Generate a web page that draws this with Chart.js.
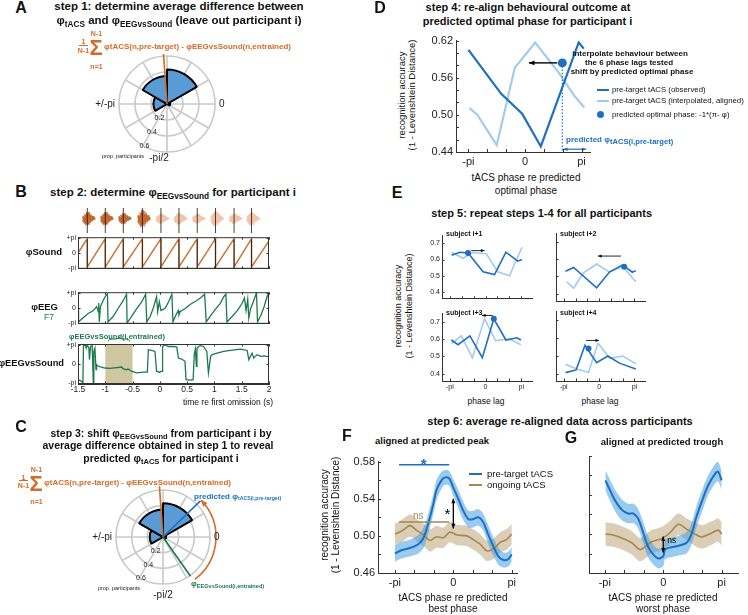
<!DOCTYPE html>
<html>
<head>
<meta charset="utf-8">
<title>tACS phase realignment</title>
<script src="https://cdn.jsdelivr.net/npm/chart.js@4.4.1/dist/chart.umd.min.js"></script>
<style>
  body { margin: 0; background: #fff; }
  #page { position: relative; width: 748px; height: 615px; overflow: hidden; font-family: "Liberation Sans", Arial, sans-serif; color: #111; }
  #page canvas { position: absolute; }
  .t { position: absolute; white-space: nowrap; line-height: 1; }
  .t sub { font-size: 72%; vertical-align: baseline; position: relative; top: 0.32em; }
  .ln { position: absolute; }
</style>
</head>
<body>
<div id="page"></div>
<script>
// ---------- data ----------

// A + C: rose of phase differences (6 bins of 60 deg, prop. participants)
const roseBins = ['0', '-pi/3', '-2pi/3', 'pi', '2pi/3', 'pi/3'];
const roseProp = [0.04, 0, 0, 0.17, 0.35, 0.43];
const roseRings = [0.2, 0.4, 0.6];
const roseRingLabels = ['0.2', '0.4', '0.6'];
const roseSpokes = [0, 30, 60, 90, 120, 150, 180, 210, 240, 270, 300, 330];
const meanDiffAngle = 94;   // degrees
const predAngle = 44;
const eegAngle = -55;

// B: phases over time (s), phase in units of pi
const bTicks = [-1.5, -1, -0.5, 0, 0.5, 1, 1.5, 2];
const bTickLabels = ['-1.5', '-1', '-0.5', '0', '0.5', '1', '1.5', '2'];
const piTicks = [-1, 0, 1];
const piTickLabels = ['-pi', '0', '+pi'];
const soundOnsets = [-1.33, -1.0, -0.67, -0.32, 0.02, 0.35, 0.685, 1.02, 1.36, 1.68];
const soundGain = [0.85, 0.85, 0.7, 1.1, 0.65, 0.75, 0.6, 0.95, 0.65, 0.85];
const darkBursts = 4;
const envOffset = [-0.09, -0.075, -0.06, -0.045, -0.03, -0.015, 0, 0.015, 0.03, 0.045, 0.06, 0.075, 0.09, 0.105, 0.12, 0.135, 0.15];
const envAmp = [0.12, 0.45, 0.25, 0.7, 0.4, 0.95, 0.55, 1.0, 0.5, 0.85, 0.35, 0.6, 0.25, 0.4, 0.12, 0.2, 0.05];
const soundPhase = [[-1.5, 0], [-1.33, 0.95], [-1.33, -0.93], [-1.0, 0.95], [-1.0, -0.93], [-0.67, 0.95], [-0.67, -0.93],
  [-0.32, 0.95], [-0.32, -0.93], [0.02, 0.95], [0.02, -0.93], [0.35, 0.95], [0.35, -0.93], [0.685, 0.95], [0.685, -0.93],
  [1.02, 0.95], [1.02, -0.93], [1.36, 0.95], [1.36, -0.93], [1.68, 0.95], [1.68, -0.93], [2.0, 0.8]];
const eegPhase = [[-1.5, -0.05], [-1.49, -0.92], [-1.41, -0.67], [-1.32, -0.38], [-1.22, -0.17], [-1.16, 0.08], [-1.14, -0.08],
  [-1.13, -0.25], [-1.12, 0.33], [-1.11, -0.92], [-1.09, 0.08], [-1.04, 0.5], [-0.98, 0.88], [-0.96, 0.92], [-0.95, -0.92],
  [-0.86, -0.58], [-0.76, 0.0], [-0.67, 0.5], [-0.61, 0.92], [-0.6, -1.0], [-0.52, -0.58], [-0.43, -0.08], [-0.33, 0.42],
  [-0.26, 0.92], [-0.24, -0.92], [-0.18, -0.58], [-0.12, 0.0], [-0.06, 0.75], [-0.04, -0.25], [-0.01, 0.42], [0.02, -0.17],
  [0.1, 0.0], [0.16, 0.42], [0.22, 0.92], [0.24, -0.92], [0.3, -0.42], [0.34, -0.17], [0.35, -0.45], [0.37, -0.25],
  [0.46, -0.05], [0.56, 0.25], [0.68, 0.5], [0.77, 0.75], [0.82, 0.92], [0.85, -0.92], [0.93, -0.5], [1.02, -0.08],
  [1.11, 0.33], [1.17, 0.75], [1.21, 0.92], [1.23, -0.92], [1.32, -0.58], [1.42, -0.17], [1.51, 0.33], [1.55, 0.67],
  [1.58, -0.17], [1.61, 0.58], [1.63, -0.67], [1.66, -0.08], [1.72, 0.5], [1.77, 1.0], [1.79, -0.92], [1.85, -0.5],
  [1.91, 0.08], [1.97, 0.83], [1.99, 0.92], [2.0, -1.0]];
const eegVsSound = [[-1.5, -0.82], [-1.44, -0.9], [-1.41, -0.99], [-1.4, 0.96], [-1.36, 0.96], [-1.35, 0.83], [-1.33, 1.0],
  [-1.3, 0.83], [-1.29, 0.23], [-1.27, 0.92], [-1.24, 0.96], [-1.22, -0.99], [-1.21, -0.82], [-1.21, 0.66], [-1.19, 0.83],
  [-1.17, -0.3], [-1.16, -0.03], [-1.13, -0.12], [-1.07, -0.16], [-1.01, -0.21], [-0.92, -0.23], [-0.79, -0.19],
  [-0.7, -0.16], [-0.67, -0.26], [-0.61, -0.3], [-0.58, -0.26], [-0.52, -0.38], [-0.43, -0.47], [-0.3, -0.43],
  [-0.23, -0.43], [-0.21, 0.75], [-0.15, 0.71], [-0.09, 0.66], [-0.06, -0.38], [-0.01, -0.43], [0.04, -0.38],
  [0.05, 0.92], [0.1, 1.0], [0.16, 0.92], [0.25, 0.92], [0.31, 0.89], [0.34, 0.31], [0.4, 0.26], [0.46, 0.14],
  [0.48, -0.82], [0.56, -0.85], [0.61, -0.82], [0.63, 0.49], [0.65, 0.78], [0.67, -0.12], [0.68, 0.83], [0.71, 0.92],
  [0.74, 0.96], [0.8, 0.92], [0.86, 0.66], [0.89, -0.47], [0.93, 0.4], [0.96, 0.49], [1.05, 0.57], [1.17, 0.66],
  [1.29, 0.71], [1.48, 0.78], [1.6, 0.71], [1.63, 0.23], [1.66, 0.4], [1.69, 0.57], [1.72, 0.31], [1.78, 0.49],
  [1.85, 0.4], [1.91, 0.43], [2.0, 0.37]];
const entrainedWindow = [-1, -0.5];

// shared phase axis (units of pi)
const phaseTicks = [-1, -2 / 3, -1 / 3, 0, 1 / 3, 2 / 3, 1];
const phaseLabels = ['-pi', '', '', '0', '', '', 'pi'];

// D: single participant
const dTicksY = [0.44, 0.46, 0.48, 0.50, 0.52, 0.54, 0.56, 0.58, 0.60, 0.62];
const dTickLabelsY = ['0.44', '', '', '0.50', '', '', '0.56', '', '', '0.62'];
const dObserved = [[-1, 0.605], [-0.42, 0.534], [-0.05, 0.502], [0.28, 0.449], [0.95, 0.617], [1.04, 0.607]];
const dAligned = [[-0.98, 0.511], [-0.84, 0.5], [-0.5, 0.451], [-0.18, 0.576], [0.18, 0.617], [0.6, 0.568], [0.87, 0.531], [1.05, 0.512]];
const dOptimal = [0.66, 0.584];
const dArrowTo = 0.07;
const dShift = [0.68, 1.08, 0.4445];

// E: four more participants
const eTicksY = [0.4, 0.5, 0.6, 0.7];
const eTickLabelsY = ['0.4', '0.5', '0.6', '0.7'];
const e1Obs = [[-0.95, 0.627], [-0.72, 0.645], [-0.49, 0.64], [-0.07, 0.524], [0.25, 0.507], [0.57, 0.645], [0.9, 0.59], [1.02, 0.6]];
const e1Int = [[-0.95, 0.645], [-0.63, 0.608], [-0.35, 0.643], [0.02, 0.636], [0.34, 0.524], [0.67, 0.5], [1.02, 0.676]];
const e1Dot = [-0.49, 0.64], e1Arrow = [-0.4, -0.03, 0.655];
const e2Obs = [[-0.95, 0.529], [-0.72, 0.551], [-0.07, 0.434], [0.3, 0.526], [0.67, 0.566], [0.94, 0.524], [1.04, 0.533]];
const e2Int = [[-0.92, 0.469], [-0.72, 0.432], [-0.44, 0.52], [-0.07, 0.571], [0.3, 0.524], [0.67, 0.557], [1.04, 0.469]];
const e2Dot = [0.71, 0.555], e2Arrow = [0.62, -0.03, 0.617];
const e3Obs = [[-0.96, 0.595], [-0.77, 0.568], [-0.44, 0.619], [-0.09, 0.493], [0.23, 0.718], [0.57, 0.595], [0.88, 0.608], [0.99, 0.595]];
const e3Int = [[-0.95, 0.574], [-0.68, 0.619], [-0.37, 0.493], [-0.03, 0.718], [0.28, 0.592], [0.67, 0.601], [0.99, 0.568]];
const e3Dot = [0.23, 0.718], e3Arrow = [0.2, -0.1, 0.737];
const e4Obs = [[-0.95, 0.405], [-0.65, 0.42], [-0.4, 0.558], [-0.07, 0.461], [0.25, 0.498], [0.575, 0.458], [1.04, 0.425]];
const e4Int = [[-0.95, 0.452], [-0.63, 0.425], [-0.3, 0.405], [-0.03, 0.57], [0.3, 0.485], [0.67, 0.498], [1.04, 0.454]];
const e4Dot = [-0.3, 0.54], e4Arrow = [-0.37, 0.0, 0.585];

// F + G: group average [phase, mean, ci half-width]
const fgTicksY = [0.46, 0.48, 0.50, 0.52, 0.54, 0.56, 0.58];
const fTickLabelsY = ['0.46', '', '0.50', '', '0.54', '', '0.58'];
const fPre = [[-1, 0.481, 0.009], [-0.91, 0.484, 0.009], [-0.74, 0.487, 0.009], [-0.6, 0.491, 0.01], [-0.51, 0.498, 0.011],
  [-0.43, 0.513, 0.011], [-0.34, 0.535, 0.011], [-0.29, 0.549, 0.011], [-0.2, 0.56, 0.009], [-0.14, 0.563, 0.008],
  [-0.07, 0.562, 0.008], [0, 0.552, 0.009], [0.09, 0.539, 0.01], [0.17, 0.527, 0.01], [0.26, 0.518, 0.009],
  [0.34, 0.518, 0.009], [0.43, 0.52, 0.009], [0.51, 0.515, 0.009], [0.6, 0.501, 0.01], [0.69, 0.488, 0.01],
  [0.77, 0.478, 0.009], [0.86, 0.474, 0.008], [0.94, 0.475, 0.008], [1, 0.48, 0.008]];
const fOn = [[-1, 0.502, 0.011], [-0.89, 0.505, 0.012], [-0.74, 0.511, 0.012], [-0.63, 0.506, 0.012], [-0.51, 0.501, 0.012],
  [-0.4, 0.495, 0.012], [-0.29, 0.499, 0.012], [-0.17, 0.498, 0.011], [-0.06, 0.504, 0.011], [0.06, 0.501, 0.011],
  [0.23, 0.5, 0.011], [0.34, 0.496, 0.011], [0.46, 0.491, 0.011], [0.57, 0.484, 0.011], [0.69, 0.486, 0.011],
  [0.8, 0.493, 0.011], [0.91, 0.496, 0.011], [1, 0.502, 0.011]];
const gPre = [[-0.99, 0.555, 0.01], [-0.91, 0.545, 0.011], [-0.83, 0.535, 0.011], [-0.71, 0.525, 0.011], [-0.6, 0.521, 0.01],
  [-0.51, 0.521, 0.01], [-0.43, 0.516, 0.01], [-0.34, 0.501, 0.011], [-0.26, 0.487, 0.011], [-0.17, 0.479, 0.01],
  [-0.09, 0.475, 0.01], [0, 0.477, 0.01], [0.03, 0.484, 0.01], [0.11, 0.486, 0.01], [0.26, 0.488, 0.01],
  [0.4, 0.491, 0.011], [0.49, 0.501, 0.011], [0.57, 0.518, 0.011], [0.69, 0.538, 0.011], [0.77, 0.55, 0.01],
  [0.89, 0.562, 0.01], [0.94, 0.564, 0.01], [1, 0.555, 0.01]];
const gOn = [[-0.99, 0.5, 0.012], [-0.86, 0.499, 0.012], [-0.71, 0.496, 0.012], [-0.54, 0.491, 0.012], [-0.4, 0.484, 0.012],
  [-0.31, 0.487, 0.012], [-0.2, 0.492, 0.012], [-0.09, 0.494, 0.012], [0, 0.496, 0.012], [0.11, 0.501, 0.012],
  [0.26, 0.51, 0.011], [0.4, 0.505, 0.011], [0.54, 0.5, 0.012], [0.66, 0.497, 0.012], [0.83, 0.501, 0.012],
  [0.94, 0.504, 0.012], [1, 0.5, 0.012]];
const fSigPre = [-0.93, -0.07, 0.5766], fStarPre = [-0.51, 0.5795];
const fSigOn = [-0.93, -0.07, 0.515], fNsOn = [-0.6, 0.5215];
const fDiff = [0, 0.540, 0.508], fStarDiff = [-0.1, 0.5225];
const gDiff = [0, 0.4975, 0.481], gNsDiff = [0.145, 0.4935];

// ---------- style ----------
const FONT = '"Liberation Sans", Arial, sans-serif';
const ORANGE = '#d66a28', GREEN = '#1c7a4c', BLUE_D = '#1f6fc1', BLUE_L = '#a3cbee';
const BROWN = '#a68754', ROSE = '#5b9bd5', SOUND = '#c8773a';
Chart.defaults.font.family = FONT;
Chart.defaults.color = '#222';

const page = document.getElementById('page');

function txt(html, x, y, size, o = {}) {
  const d = document.createElement('div');
  d.className = 't';
  d.innerHTML = html;
  const ax = o.align === 'left' ? '0' : o.align === 'right' ? '-100%' : '-50%';
  d.style.left = x + 'px';
  d.style.top = y + 'px';
  d.style.fontSize = size + 'px';
  if (o.bold) d.style.fontWeight = 'bold';
  if (o.color) d.style.color = o.color;
  d.style.transform = `translate(${ax},-50%)` + (o.rot ? ` rotate(${o.rot}deg)` : '');
  page.appendChild(d);
  return d;
}

function hbar(x1, x2, y, color, w) {
  const d = document.createElement('div');
  d.className = 'ln';
  Object.assign(d.style, { left: x1 + 'px', top: (y - w / 2) + 'px', width: (x2 - x1) + 'px', height: w + 'px', background: color });
  page.appendChild(d);
}

function arrow(ctx, x1, y1, x2, y2, head, both) {
  ctx.beginPath(); ctx.moveTo(x1, y1); ctx.lineTo(x2, y2); ctx.stroke();
  const tip = (xa, ya, xb, yb) => {
    const a = Math.atan2(yb - ya, xb - xa);
    ctx.beginPath();
    ctx.moveTo(xb, yb);
    ctx.lineTo(xb - head * Math.cos(a - 0.42), yb - head * Math.sin(a - 0.42));
    ctx.lineTo(xb - head * Math.cos(a + 0.42), yb - head * Math.sin(a + 0.42));
    ctx.closePath(); ctx.fill();
  };
  tip(x1, y1, x2, y2);
  if (both) tip(x2, y2, x1, y1);
}

// MATLAB style ticks pointing into the axes
const innerTicks = {
  id: 'innerTicks',
  afterDraw(ch, args, o) {
    if (!o || !o.len || !ch.scales.x) return;
    const { ctx, chartArea: a, scales: { x, y } } = ch;
    ctx.save();
    ctx.strokeStyle = '#333';
    ctx.lineWidth = 1;
    ctx.beginPath();
    x.ticks.forEach(t => {
      const p = Math.round(x.getPixelForValue(t.value)) + 0.5;
      ctx.moveTo(p, a.bottom); ctx.lineTo(p, a.bottom - o.len);
      if (o.box) { ctx.moveTo(p, a.top); ctx.lineTo(p, a.top + o.len); }
    });
    y.ticks.forEach(t => {
      const p = Math.round(y.getPixelForValue(t.value)) + 0.5;
      ctx.moveTo(a.left, p); ctx.lineTo(a.left + o.len, p);
      if (o.box) { ctx.moveTo(a.right, p); ctx.lineTo(a.right - o.len, p); }
    });
    ctx.stroke();
    if (o.box) ctx.strokeRect(a.left + 0.5, a.top + 0.5, a.width - 1, a.height - 1);
    ctx.restore();
  }
};
Chart.register(innerTicks);

function axis(min, max, ticks, labels, o = {}) {
  return {
    type: 'linear', min, max, bounds: 'data',
    afterBuildTicks: s => { s.ticks = ticks.map(v => ({ value: v })); },
    ticks: {
      display: !!labels, autoSkip: false, maxRotation: 0, padding: o.pad ?? 3,
      font: { size: o.size ?? 10 }, color: '#222',
      callback: (v, i) => labels ? labels[i] : ''
    },
    grid: { display: false, drawTicks: false },
    border: { display: o.border !== false, color: '#333', width: 1 }
  };
}

// box = plot area in page pixels, m = room around it for tick labels
function plot(box, m, datasets, scales, opt = {}) {
  const c = document.createElement('canvas');
  const W = box.w + m.l + m.r, H = box.h + m.t + m.b;
  c.width = W; c.height = H;
  Object.assign(c.style, { left: (box.l - m.l) + 'px', top: (box.t - m.t) + 'px', width: W + 'px', height: H + 'px' });
  page.appendChild(c);
  scales.x.afterFit = s => { s.height = m.b; };
  scales.y.afterFit = s => { s.width = m.l; };
  return new Chart(c, {
    type: 'line',
    data: { datasets },
    options: {
      responsive: false, animation: false, events: [],
      layout: { padding: { left: 0, right: m.r, top: m.t, bottom: 0 } },
      scales,
      plugins: { legend: { display: false }, tooltip: { enabled: false }, innerTicks: opt.ticks || {} },
      elements: { point: { radius: 0 }, line: { tension: 0 } }
    },
    plugins: opt.draw ? [opt.draw] : []
  });
}

const pts = a => a.map(p => ({ x: p[0], y: p[1] }));
function line(a, color, w, extra) {
  return Object.assign({ data: pts(a), borderColor: color, borderWidth: w, pointRadius: 0, fill: false }, extra || {});
}
function band(rows, fill) {
  return [
    { data: rows.map(r => ({ x: r[0], y: r[1] + r[2] })), borderWidth: 0, backgroundColor: fill, fill: '+1', pointRadius: 0, tension: 0.3 },
    { data: rows.map(r => ({ x: r[0], y: r[1] - r[2] })), borderWidth: 0, fill: false, pointRadius: 0, tension: 0.3 }
  ];
}
function dotSet(p, r) {
  return { data: pts([p]), showLine: false, pointRadius: r, pointBackgroundColor: BLUE_D, pointBorderColor: BLUE_D, pointBorderWidth: 0 };
}

// ---------- rose plots (A, C) ----------
function ray(ctx, s, deg, len, color, w) {
  const r = deg * Math.PI / 180;
  ctx.save(); ctx.strokeStyle = color; ctx.lineWidth = w;
  ctx.beginPath(); ctx.moveTo(s.xCenter, s.yCenter);
  ctx.lineTo(s.xCenter + len * Math.cos(r), s.yCenter - len * Math.sin(r));
  ctx.stroke(); ctx.restore();
}

function roseFrame(sdx, sdy) {
  return {
    id: 'roseFrame',
    beforeDatasetsDraw(ch) {
      const s = ch.scales.r, ctx = ch.ctx;
      const R = s.getDistanceFromCenterForValue(s.max);
      ctx.save(); ctx.strokeStyle = '#c9c9c9'; ctx.lineWidth = 1.6; ctx.beginPath();
      roseSpokes.forEach(a => {
        const r = a * Math.PI / 180;
        ctx.moveTo(s.xCenter, s.yCenter);
        ctx.lineTo(s.xCenter + R * Math.cos(r), s.yCenter - R * Math.sin(r));
      });
      ctx.stroke(); ctx.restore();
    },
    afterDraw(ch) {
      const s = ch.scales.r, ctx = ch.ctx, cx = s.xCenter, cy = s.yCenter;
      const R = s.getDistanceFromCenterForValue(s.max);
      ctx.save(); ctx.fillStyle = '#222'; ctx.textBaseline = 'middle';
      ctx.font = `10px ${FONT}`;
      ctx.textAlign = 'right'; ctx.fillText('+/-pi', cx - R - 4, cy);
      ctx.textAlign = 'left'; ctx.fillText('0', cx + R + 4, cy);
      ctx.textAlign = 'center'; ctx.fillText('-pi/2', cx + sdx, cy + R + sdy);
      ctx.font = `7px ${FONT}`;
      const la = -118 * Math.PI / 180;
      roseRings.forEach((v, i) => {
        const r = s.getDistanceFromCenterForValue(v);
        ctx.fillText(roseRingLabels[i], cx + r * Math.cos(la), cy - r * Math.sin(la));
      });
      ctx.font = `5.5px ${FONT}`;
      ctx.fillText('prop. participants', cx - 44, cy + R + 4);
      ctx.restore();
    }
  };
}

function rose(cx, cy, R, sdx, sdy, draw) {
  const S = 160, P = S / 2 - R;
  const c = document.createElement('canvas');
  c.width = S; c.height = S;
  Object.assign(c.style, { left: (cx - S / 2) + 'px', top: (cy - S / 2) + 'px', width: S + 'px', height: S + 'px' });
  page.appendChild(c);
  return new Chart(c, {
    type: 'polarArea',
    data: { labels: roseBins, datasets: [{ data: roseProp, backgroundColor: ROSE, borderColor: '#000', borderWidth: 2 }] },
    options: {
      responsive: false, animation: false, events: [],
      layout: { padding: P },
      scales: {
        r: {
          min: 0, max: 0.6, startAngle: 60,
          afterBuildTicks: s => { s.ticks = [0].concat(roseRings).map(v => ({ value: v })); },
          ticks: { display: false },
          grid: { circular: true, color: '#c9c9c9', lineWidth: 1.6 },
          angleLines: { display: false },
          pointLabels: { display: false }
        }
      },
      plugins: { legend: { display: false }, tooltip: { enabled: false } }
    },
    plugins: [roseFrame(sdx, sdy), draw]
  });
}

rose(167, 104, 48, -8, 6, {
  id: 'roseA',
  afterDatasetsDraw(ch) { ray(ch.ctx, ch.scales.r, meanDiffAngle, 50, ORANGE, 1.6); }
});

rose(163, 537, 47, 0, 11, {
  id: 'roseC',
  afterDatasetsDraw(ch) {
    const s = ch.scales.r, ctx = ch.ctx;
    ray(ctx, s, meanDiffAngle, 51, ORANGE, 1.6);
    ray(ctx, s, predAngle, 52, BLUE_D, 1.6);
    ray(ctx, s, eegAngle, 48, GREEN, 1.6);
    // shift from phi EEGvsSound to predicted phi tACS
    const r = 53, a0 = (eegAngle + 2) * Math.PI / 180, a1 = (predAngle - 3) * Math.PI / 180;
    ctx.save();
    ctx.strokeStyle = ORANGE; ctx.fillStyle = ORANGE; ctx.lineWidth = 1.6;
    ctx.beginPath(); ctx.arc(s.xCenter, s.yCenter, r, -a0, -a1, true); ctx.stroke();
    const ex = s.xCenter + r * Math.cos(a1), ey = s.yCenter - r * Math.sin(a1);
    const tx = -Math.sin(a1), ty = -Math.cos(a1);
    arrow(ctx, ex - tx * 2, ey - ty * 2, ex + tx * 3, ey + ty * 3, 7);
    ctx.restore();
  }
});

// ---------- B: phase traces ----------
const bX = (labels) => axis(-1.5, 2, bTicks, labels, { size: 8.5, pad: 1 });
const bY = () => axis(-1.05, 1.05, piTicks, piTickLabels, { size: 7, pad: 2 });

const burstSets = [];
soundOnsets.forEach((t0, k) => {
  const col = k < darkBursts ? 'rgba(192,96,36,0.95)' : 'rgba(240,184,148,0.8)';
  const up = envOffset.map((d, i) => [t0 + d, envAmp[i] * soundGain[k]]);
  const dn = envOffset.map((d, i) => [t0 + d, -envAmp[(i + 1) % envAmp.length] * soundGain[k]]);
  burstSets.push(line(up, col, 0.7, { fill: '+1', backgroundColor: col }), line(dn, col, 0.7));
});
const onsetLines = {
  id: 'onsetLines',
  afterDatasetsDraw(ch) {
    const { ctx, chartArea: a, scales: { x } } = ch;
    ctx.save(); ctx.strokeStyle = '#111'; ctx.lineWidth = 0.8; ctx.beginPath();
    soundOnsets.forEach(t => { const p = x.getPixelForValue(t); ctx.moveTo(p, a.top + 2); ctx.lineTo(p, a.bottom); });
    ctx.stroke(); ctx.restore();
  }
};
plot({ l: 78, t: 206, w: 191, h: 27 }, { l: 0, r: 0, t: 0, b: 0 }, burstSets,
  { x: axis(-1.5, 2, [], null, { border: false }), y: axis(-1.8, 1.6, [], null, { border: false }) },
  { draw: onsetLines });

plot({ l: 78, t: 233, w: 191, h: 40 }, { l: 16, r: 4, t: 2, b: 2 },
  [line(soundPhase, SOUND, 1.5)],
  { x: bX(null), y: bY() },
  { ticks: { len: 2.5, box: true }, draw: onsetLines });

plot({ l: 78, t: 288, w: 191, h: 40 }, { l: 16, r: 4, t: 2, b: 2 },
  [line(eegPhase, GREEN, 1.3)],
  { x: bX(null), y: bY() },
  { ticks: { len: 2.5, box: true } });

plot({ l: 78, t: 344, w: 191, h: 40 }, { l: 16, r: 6, t: 8, b: 13 },
  [line(eegVsSound, GREEN, 1.3)],
  { x: bX(bTickLabels), y: bY() },
  {
    ticks: { len: 2.5, box: true },
    draw: {
      id: 'window',
      beforeDatasetsDraw(ch) {
        const { ctx, chartArea: a, scales: { x } } = ch;
        const x0 = x.getPixelForValue(entrainedWindow[0]), x1 = x.getPixelForValue(entrainedWindow[1]);
        ctx.save(); ctx.fillStyle = '#cfc6a2'; ctx.fillRect(x0, a.top, x1 - x0, a.height);
        // brace above the window
        const y0 = a.top - 2.5, xm = (x0 + x1) / 2;
        ctx.strokeStyle = GREEN; ctx.lineWidth = 1; ctx.beginPath();
        ctx.moveTo(x0 + 3, y0); ctx.quadraticCurveTo(x0 + 3, y0 - 2.5, x0 + 8, y0 - 2.5);
        ctx.lineTo(xm - 3, y0 - 2.5); ctx.quadraticCurveTo(xm, y0 - 2.5, xm, y0 - 5);
        ctx.quadraticCurveTo(xm, y0 - 2.5, xm + 3, y0 - 2.5); ctx.lineTo(x1 - 8, y0 - 2.5);
        ctx.quadraticCurveTo(x1 - 3, y0 - 2.5, x1 - 3, y0); ctx.stroke();
        ctx.restore();
      }
    }
  });

// ---------- D ----------
plot({ l: 456, t: 37, w: 134, h: 115 }, { l: 30, r: 8, t: 6, b: 17 },
  [dotSet(dOptimal, 4.5), line(dObserved, BLUE_D, 2.2), line(dAligned, BLUE_L, 2.2)],
  {
    x: axis(-1.22, 1.15, phaseTicks, phaseLabels, { size: 11, pad: 3 }),
    y: axis(0.44, 0.62, dTicksY, dTickLabelsY, { size: 11, pad: 3 })
  },
  {
    ticks: { len: 3 },
    draw: {
      id: 'dDraw',
      afterDatasetsDraw(ch) {
        const { ctx, scales: { x, y } } = ch;
        const px = x.getPixelForValue(dOptimal[0]), py = y.getPixelForValue(dOptimal[1]);
        ctx.save();
        ctx.strokeStyle = BLUE_D; ctx.lineWidth = 1.2; ctx.setLineDash([1.5, 1.8]);
        ctx.beginPath(); ctx.moveTo(px, py); ctx.lineTo(px, y.getPixelForValue(0.44)); ctx.stroke();
        ctx.setLineDash([]);
        ctx.strokeStyle = '#000'; ctx.fillStyle = '#000'; ctx.lineWidth = 1.4;
        arrow(ctx, px - 5, py, x.getPixelForValue(dArrowTo), py, 6);
        const ay = y.getPixelForValue(dShift[2]);
        ctx.strokeStyle = BLUE_D; ctx.fillStyle = BLUE_D; ctx.lineWidth = 1.2;
        arrow(ctx, x.getPixelForValue(dShift[0]), ay, x.getPixelForValue(dShift[1]), ay, 4.5, true);
        ctx.restore();
      }
    }
  });

// ---------- E ----------
function arrowPlugin(arr) {
  return {
    id: 'eArrow',
    afterDatasetsDraw(ch) {
      const { ctx, scales: { x, y } } = ch;
      const py = y.getPixelForValue(arr[2]);
      ctx.save(); ctx.strokeStyle = '#111'; ctx.fillStyle = '#111'; ctx.lineWidth = 0.9;
      arrow(ctx, x.getPixelForValue(arr[0]), py, x.getPixelForValue(arr[1]), py, 4);
      ctx.restore();
    }
  };
}
function eplot(box, obs, intp, dot, arr, showY, showX) {
  plot(box, { l: showY ? 16 : 3, r: 3, t: 3, b: showX ? 11 : 2 },
    [dotSet(dot, 3), line(obs, BLUE_D, 1.6), line(intp, BLUE_L, 1.6)],
    {
      x: axis(-1.22, 1.3, phaseTicks, showX ? phaseLabels : null, { size: 7, pad: 2 }),
      y: axis(0.358, 0.75, eTicksY, showY ? eTickLabelsY : null, { size: 7, pad: 2 })
    },
    { ticks: { len: 2.5 }, draw: arrowPlugin(arr) });
}
eplot({ l: 442, t: 232, w: 91, h: 71 }, e1Obs, e1Int, e1Dot, e1Arrow, true, false);
eplot({ l: 555, t: 232, w: 91, h: 71 }, e2Obs, e2Int, e2Dot, e2Arrow, false, false);
eplot({ l: 442, t: 310, w: 91, h: 71 }, e3Obs, e3Int, e3Dot, e3Arrow, true, true);
eplot({ l: 555, t: 310, w: 91, h: 71 }, e4Obs, e4Int, e4Dot, e4Arrow, false, true);

// ---------- F, G ----------
const PRE_FILL = 'rgba(70,160,228,0.55)', ON_FILL = 'rgba(172,146,96,0.45)';
function avgSets(pre, on) {
  return [
    line(pre.map(r => [r[0], r[1]]), BLUE_D, 2, { tension: 0.3 }),
    line(on.map(r => [r[0], r[1]]), BROWN, 1.6, { tension: 0.3 }),
    ...band(pre, PRE_FILL),
    ...band(on, ON_FILL)
  ];
}
function vArrowNote(ch, d, note, txtStr, color, size) {
  const { ctx, scales: { x, y } } = ch;
  const px = x.getPixelForValue(d[0]);
  ctx.save(); ctx.strokeStyle = '#000'; ctx.fillStyle = '#000'; ctx.lineWidth = 1.3;
  arrow(ctx, px, y.getPixelForValue(d[1]), px, y.getPixelForValue(d[2]), 5, true);
  ctx.fillStyle = color; ctx.font = `${size}px ${FONT}`; ctx.textBaseline = 'middle'; ctx.textAlign = 'center';
  ctx.fillText(txtStr, x.getPixelForValue(note[0]), y.getPixelForValue(note[1]));
  ctx.restore();
}
plot({ l: 378, t: 456, w: 139, h: 117 }, { l: 26, r: 6, t: 4, b: 17 },
  avgSets(fPre, fOn),
  {
    x: axis(-1.29, 1.09, phaseTicks, phaseLabels, { size: 11, pad: 3 }),
    y: axis(0.46, 0.58, fgTicksY, fTickLabelsY, { size: 11, pad: 3 })
  },
  {
    ticks: { len: 3 },
    draw: {
      id: 'fDraw',
      afterDatasetsDraw(ch) {
        const { ctx, scales: { x, y } } = ch;
        ctx.save(); ctx.lineWidth = 1.6;
        [[fSigPre, BLUE_D], [fSigOn, BROWN]].forEach(([s, c]) => {
          ctx.strokeStyle = c; ctx.beginPath();
          ctx.moveTo(x.getPixelForValue(s[0]), y.getPixelForValue(s[2]));
          ctx.lineTo(x.getPixelForValue(s[1]), y.getPixelForValue(s[2])); ctx.stroke();
        });
        ctx.textAlign = 'center'; ctx.textBaseline = 'middle';
        ctx.fillStyle = BLUE_D; ctx.font = `bold 15px ${FONT}`;
        ctx.fillText('*', x.getPixelForValue(fStarPre[0]), y.getPixelForValue(fStarPre[1]) + 3);
        ctx.fillStyle = BROWN; ctx.font = `10px ${FONT}`;
        ctx.fillText('ns', x.getPixelForValue(fNsOn[0]), y.getPixelForValue(fNsOn[1]));
        ctx.restore();
        vArrowNote(ch, fDiff, fStarDiff, '*', '#000', 15);
      }
    }
  });
plot({ l: 589, t: 456, w: 149, h: 117 }, { l: 3, r: 8, t: 4, b: 17 },
  avgSets(gPre, gOn),
  {
    x: axis(-1.27, 1.28, phaseTicks, phaseLabels, { size: 11, pad: 3 }),
    y: axis(0.46, 0.58, fgTicksY, null)
  },
  {
    ticks: { len: 3 },
    draw: { id: 'gDraw', afterDatasetsDraw(ch) { vArrowNote(ch, gDiff, gNsDiff, 'ns', '#000', 8.5); } }
  });

// ---------- text ----------
const B = { bold: true };
function formula(sx, sy, size) {
  txt('1', sx - 11.5, sy - 6, 7, { bold: true, color: ORANGE });
  hbar(sx - 16, sx - 7, sy - 2, ORANGE, 1);
  txt('N-1', sx - 11.5, sy + 2.5, 7, { bold: true, color: ORANGE });
  txt('&Sigma;', sx + 1, sy + 1, 22, { bold: true, color: ORANGE });
  txt('N-1', sx + 1.5, sy - 14, 7, { bold: true, color: ORANGE });
  txt('n=1', sx + 1.5, sy + 18.5, 7, { bold: true, color: ORANGE });
  txt('φtACS(n,pre-target) - φEEGvsSound(n,entrained)', sx + 9, sy, size, { bold: true, color: ORANGE, align: 'left' });
}

// A
txt('A', 21, 8, 16, B);
txt('step 1: determine average difference between', 179, 7, 11.5, B);
txt('φ<sub>tACS</sub> and φ<sub>EEGvsSound</sub> (leave out participant i)', 179, 21, 11.5, B);
formula(95, 47, 8);

// B
txt('B', 21, 192, 16, B);
txt('step 2: determine φ<sub>EEGvsSound</sub> for participant i', 173, 193, 11.5, B);
txt('φSound', 62, 252, 9.5, { bold: true, align: 'right' });
txt('φEEG', 58, 306.5, 9.5, { bold: true, align: 'right' });
txt('F7', 49, 317, 8.5, { color: GREEN });
txt('φEEGvsSound', 64, 363.5, 9.3, { bold: true, align: 'right' });
txt('φEEGvsSound(i,entrained)', 117, 336.5, 7.5, { bold: true, color: GREEN });
txt('time re first omission (s)', 228, 402, 8.5);

// C
txt('C', 21, 427, 16, B);
txt('step 3: shift φ<sub>EEGvsSound</sub> from participant i by', 161, 433, 10.5, B);
txt('average difference obtained in step 1 to reveal', 158, 445, 10.5, B);
txt('predicted φ<sub>tACS</sub> for participant i', 161, 457.5, 10.5, B);
formula(35, 482.5, 8);
txt('predicted φ<sub style="font-size:65%">tACS(i,pre-target)</sub>', 194, 496.5, 8, { bold: true, color: BLUE_D, align: 'left' });
txt('φ<sub style="font-size:70%">EEGvsSound(i,entrained)</sub>', 191, 584, 8, { bold: true, color: GREEN, align: 'left' });

// D
txt('D', 380, 8, 16, B);
txt('step 4: re-align behavioural outcome at', 528, 7, 11, B);
txt('predicted optimal phase for participant i', 527.5, 21, 11, B);
txt('recognition accuracy', 402, 95, 9.5, { rot: -90 });
txt('(1 - Levenshtein Distance)', 412, 95, 9.5, { rot: -90 });
txt('tACS phase re predicted', 526, 177.5, 10);
txt('optimal phase', 526, 190.5, 10);
txt('interpolate behaviour between', 630, 53.5, 8, B);
txt('the 6 phase lags tested', 629, 62.5, 8, B);
txt('shift by predicted optimal phase', 632, 71.5, 8, B);
hbar(597, 609, 90, BLUE_D, 2.2);
hbar(597, 609, 101, BLUE_L, 2.2);
const legDot = document.createElement('div');
Object.assign(legDot.style, { position: 'absolute', left: '597px', top: '111px', width: '7px', height: '7px', borderRadius: '50%', background: BLUE_D });
page.appendChild(legDot);
txt('pre-target tACS (observed)', 612, 90, 7.8, { align: 'left' });
txt('pre-target tACS (interpolated, aligned)', 612, 101, 7.8, { align: 'left' });
txt('predicted optimal phase: -1*(π- φ)', 612, 114.5, 7.8, { align: 'left' });
txt('predicted φ<sub style="font-size:95%">tACS(i,pre-target)</sub>', 566, 140, 8, { bold: true, color: BLUE_D, align: 'left' });

// E
txt('E', 397, 193, 16, B);
txt('step 5: repeat steps 1-4 for all participants', 541.7, 212.7, 11, B);
txt('subject i+1', 446, 233, 7, { bold: true, align: 'left' });
txt('subject i+2', 560, 233, 7, { bold: true, align: 'left' });
txt('subject i+3', 446, 312, 7, { bold: true, align: 'left' });
txt('subject i+4', 560, 312, 7, { bold: true, align: 'left' });
txt('recognition accuracy', 398, 306, 9, { rot: -90 });
txt('(1 - Levenshtein Distance)', 409, 306, 9, { rot: -90 });
txt('phase lag', 486, 401, 8.5);
txt('phase lag', 600, 401, 8.5);

// F, G
txt('step 6: average re-aligned data across participants', 560, 420.5, 11, B);
txt('F', 347, 436, 16, B);
txt('aligned at predicted peak', 432, 441, 9.5, B);
txt('recognition accuracy', 325, 514.5, 10, { rot: -90 });
txt('(1 - Levenshtein Distance)', 336, 514.5, 10, { rot: -90 });
txt('tACS phase re predicted', 453, 597.5, 10);
txt('best phase', 453, 609, 10);
hbar(469, 482, 474, BLUE_D, 2);
hbar(469, 482, 485, BROWN, 2);
txt('pre-target tACS', 487, 474, 9.5, { align: 'left' });
txt('ongoing tACS', 487, 485, 9.5, { align: 'left' });
txt('G', 571, 438, 16, B);
txt('aligned at predicted trough', 662, 441.5, 9.5, B);
txt('tACS phase re predicted', 663, 597.5, 10);
txt('worst phase', 663, 609, 10);
</script>
</body>
</html>
